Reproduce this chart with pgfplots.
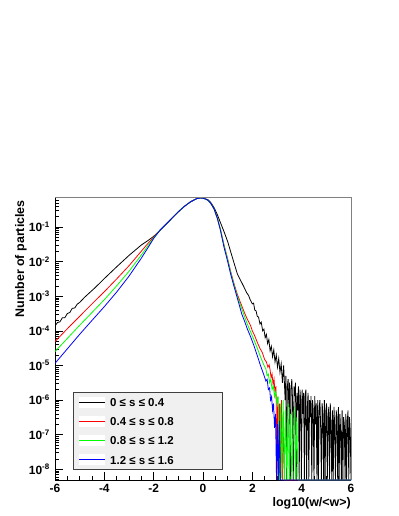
\documentclass[border=0pt]{standalone}
\usepackage{fontspec}
\setmainfont{Liberation Sans}
\usepackage{pgfplots}
\pgfplotsset{compat=1.18}

% value used for empty bins (drawn on the lower frame, like ROOT does)
\def\ymn{4.9e-9}

% one legend row: #1 colour, #2 vertical position (axis description), #3 text
\newcommand\keyrow[3]{%
  \fill[white] ([yshift=-5.5bp]axis description cs:0.0811,#2) rectangle ([yshift=5.5bp]axis description cs:0.1689,#2);
  \draw[#1, line width=0.9pt] (axis description cs:0.0811,#2) -- (axis description cs:0.1689,#2);
  \node[anchor=base west, inner sep=0pt, yshift=-4.6bp, font=\fontsize{11.5}{13}\selectfont\bfseries]
    at (axis description cs:0.1858,#2) {#3};}

\begin{document}
\begin{tikzpicture}
\useasboundingbox (0,0) rectangle (399bp,516bp);
\begin{axis}[
  at={(55bp,36bp)}, anchor=south west,
  scale only axis, width=296bp, height=283bp,
  ymode=log,
  xmin=-6, xmax=6, ymin=\ymn, ymax=0.736,
  axis x line*=bottom, axis y line*=left,
  axis line style={black, line width=0.8pt},
  clip mode=individual,
  xtick={-6,-4,-2,0,2,4,6},
  xticklabels={-6,-4,-2,0,2,4,6},
  minor x tick num=3,
  ytick={1e-8,1e-7,1e-6,1e-5,1e-4,1e-3,1e-2,1e-1},
  yticklabels={10\textsuperscript{-8},10\textsuperscript{-7},10\textsuperscript{-6},10\textsuperscript{-5},10\textsuperscript{-4},10\textsuperscript{-3},10\textsuperscript{-2},10\textsuperscript{-1}},
  minor ytick={5e-9,6e-9,7e-9,8e-9,9e-9,
    2e-8,3e-8,4e-8,5e-8,6e-8,7e-8,8e-8,9e-8,
    2e-7,3e-7,4e-7,5e-7,6e-7,7e-7,8e-7,9e-7,
    2e-6,3e-6,4e-6,5e-6,6e-6,7e-6,8e-6,9e-6,
    2e-5,3e-5,4e-5,5e-5,6e-5,7e-5,8e-5,9e-5,
    2e-4,3e-4,4e-4,5e-4,6e-4,7e-4,8e-4,9e-4,
    2e-3,3e-3,4e-3,5e-3,6e-3,7e-3,8e-3,9e-3,
    2e-2,3e-2,4e-2,5e-2,6e-2,7e-2,8e-2,9e-2,
    2e-1,3e-1,4e-1,5e-1,6e-1,7e-1},
  tick align=inside,
  major tick length=8bp, minor tick length=4bp,
  tick style={black, line width=0.6pt},
  xticklabel style={font=\fontsize{12}{14}\selectfont\bfseries, anchor=north, inner sep=0pt, yshift=-4bp},
  yticklabel style={font=\fontsize{12}{14}\selectfont\bfseries, anchor=east, inner sep=0pt, xshift=-5bp},
  xlabel={log10(w/<w>)},
  xlabel style={at={(axis description cs:1,-0.0936)}, anchor=base east, inner sep=0pt, font=\fontsize{12.5}{15}\selectfont\bfseries},
  ylabel={Number of particles},
  ylabel style={at={(axis description cs:-0.1047,0.9894)}, anchor=base east, inner sep=0pt, font=\fontsize{12.5}{15}\selectfont\bfseries},
  every axis plot/.append style={line width=0.8pt},
]

% 0 <= s <= 0.4
\addplot[black] coordinates {
 (-6.0,1.38e-4) (-5.9,1.74e-4) (-5.8,1.82e-4) (-5.7,2.40e-4) (-5.6,2.40e-4)
 (-5.5,3.16e-4) (-5.4,3.39e-4) (-5.3,4.47e-4) (-5.2,4.57e-4) (-5.1,5.89e-4)
 (-5.0,6.61e-4) (-4.8,9.33e-4) (-4.6,1.26e-3) (-4.4,1.70e-3) (-4.2,2.34e-3)
 (-4.0,3.24e-3) (-3.5,7.08e-3) (-3.0,1.51e-2) (-2.5,3.02e-2) (-2.25,3.98e-2)
 (-2.0,5.37e-2) (-1.75,7.94e-2) (-1.5,0.120) (-1.25,0.182) (-1.0,0.275)
 (-0.75,0.398) (-0.5,0.537) (-0.25,0.661) (-0.1,0.692) (0.0,0.676) (0.1,0.646)
 (0.2,0.617) (0.31,0.513) (0.45,0.363) (0.58,0.229) (0.7,0.138) (0.85,7.41e-2)
 (1.0,3.80e-2) (1.12,1.95e-2) (1.25,9.55e-3) (1.39,4.47e-3) (1.53,2.82e-3)
 (1.65,1.91e-3) (1.77,1.26e-3) (1.85,1.05e-3) (1.9,8.32e-4)
 (2.0,6.03e-4) (2.05,6.31e-4) (2.1,3.98e-4) (2.15,3.80e-4) (2.2,2.63e-4)
 (2.25,2.51e-4) (2.31,1.58e-4) (2.36,1.78e-4) (2.42,1.0e-4) (2.47,1.12e-4)
 (2.52,6.31e-5) (2.57,7.94e-5) (2.62,4.27e-5) (2.67,5.62e-5) (2.72,2.63e-5)
 (2.77,3.55e-5) (2.82,1.78e-5) (2.87,2.82e-5) (2.92,1.26e-5) (2.97,2.0e-5)
 (3.02,8.91e-6) (3.07,1.58e-5) (3.12,6.31e-6) (3.17,1.12e-5) (3.22,3.16e-6)
 (3.27,1.0e-5)
 (3.30,3.2e-6) (3.33,1.0e-6) (3.36,5.0e-6) (3.39,\ymn) (3.42,2.5e-6)
 (3.45,4.0e-6) (3.48,6.3e-7) (3.51,3.2e-6) (3.54,\ymn) (3.57,2.0e-6)
 (3.60,4.0e-6) (3.63,1.0e-6) (3.66,\ymn) (3.69,2.5e-6) (3.72,1.3e-6)
 (3.75,3.2e-6) (3.78,\ymn) (3.81,1.6e-6) (3.84,5.0e-7) (3.87,2.5e-6)
 (3.90,\ymn) (3.93,2.0e-6) (3.96,1.0e-6) (3.99,\ymn) (4.02,2.0e-6)
 (4.05,4.0e-7) (4.08,1.6e-6) (4.11,\ymn) (4.14,1.3e-6) (4.17,2.0e-6)
 (4.20,\ymn) (4.23,6.3e-7) (4.26,1.6e-6) (4.29,\ymn) (4.32,1.0e-6)
 (4.35,3.2e-7) (4.38,1.3e-6) (4.41,\ymn) (4.44,1.0e-6) (4.47,5.0e-7)
 (4.50,\ymn) (4.53,1.3e-6) (4.56,2.0e-7) (4.59,8.0e-7) (4.62,\ymn)
 (4.65,1.0e-6) (4.68,\ymn) (4.71,6.3e-7) (4.74,1.0e-6) (4.77,1.6e-7)
 (4.80,\ymn) (4.83,8.0e-7) (4.86,4.0e-7) (4.89,\ymn) (4.92,1.0e-6)
 (4.95,\ymn) (4.98,5.0e-7) (5.01,8.0e-7) (5.04,\ymn) (5.07,3.2e-7)
 (5.10,6.3e-7) (5.13,\ymn) (5.16,8.0e-7) (5.19,2.0e-7) (5.22,\ymn)
 (5.25,5.0e-7) (5.28,\ymn) (5.31,6.3e-7) (5.34,1.6e-7) (5.37,\ymn)
 (5.40,5.0e-7) (5.43,3.2e-7) (5.46,\ymn) (5.49,6.3e-7) (5.52,\ymn)
 (5.55,4.0e-7) (5.58,1.3e-7) (5.61,\ymn) (5.64,5.0e-7) (5.67,\ymn)
 (5.70,3.2e-7) (5.73,2.0e-7) (5.76,\ymn) (5.79,4.0e-7) (5.82,\ymn)
 (5.85,2.5e-7) (5.88,5.0e-7) (5.91,\ymn) (5.94,3.2e-7) (5.97,1.3e-7)
 (6.00,\ymn)
};

% 0.4 <= s <= 0.8
\addplot[red] coordinates {
 (-6.0,4.90e-5) (-5.5,1.15e-4) (-5.0,2.63e-4) (-4.5,6.03e-4) (-4.0,1.35e-3)
 (-3.5,3.16e-3) (-3.0,7.59e-3) (-2.5,2.00e-2) (-2.25,3.24e-2) (-2.0,5.13e-2)
 (-1.75,7.94e-2) (-1.5,0.120) (-1.25,0.182) (-1.0,0.275) (-0.75,0.398)
 (-0.5,0.537) (-0.25,0.661) (-0.1,0.692) (0.0,0.676) (0.1,0.646)
 (0.2,0.589) (0.31,0.490) (0.45,0.331) (0.58,0.182) (0.7,8.91e-2)
 (0.85,3.09e-2) (1.0,1.20e-2) (1.12,5.25e-3) (1.25,2.40e-3)
 (1.37,1.26e-3) (1.5,7.08e-4) (1.6,4.68e-4) (1.7,3.09e-4) (1.8,2.14e-4)
 (1.93,1.41e-4) (2.0,1.0e-4) (2.1,7.08e-5) (2.2,4.68e-5) (2.31,3.09e-5)
 (2.4,2.40e-5) (2.5,1.48e-5) (2.57,1.26e-5) (2.63,8.91e-6) (2.68,1.05e-5)
 (2.72,7.41e-6) (2.76,4.47e-6) (2.8,5.62e-6) (2.84,2.82e-6) (2.88,3.98e-6)
 (2.92,1.58e-6) (2.96,2.51e-6) (3.0,\ymn) (3.03,1.26e-6) (3.07,\ymn)
 (3.1,7.94e-7) (3.14,\ymn) (3.18,1.0e-6) (3.22,\ymn) (3.26,3.98e-7)
 (3.3,\ymn) (6.0,\ymn)
};

% 0.8 <= s <= 1.2
\addplot[green] coordinates {
 (-6.0,2.51e-5) (-5.5,6.03e-5) (-5.0,1.45e-4) (-4.5,3.39e-4) (-4.0,7.94e-4)
 (-3.5,2.00e-3) (-3.0,5.25e-3) (-2.5,1.55e-2) (-2.25,2.75e-2) (-2.0,4.90e-2)
 (-1.75,7.94e-2) (-1.5,0.120) (-1.25,0.182) (-1.0,0.275) (-0.75,0.398)
 (-0.5,0.537) (-0.25,0.661) (-0.1,0.692) (0.0,0.676) (0.1,0.646)
 (0.2,0.589) (0.31,0.490) (0.45,0.331) (0.58,0.182) (0.7,8.91e-2)
 (0.85,2.95e-2) (1.0,1.12e-2) (1.12,4.90e-3) (1.25,2.24e-3)
 (1.37,1.12e-3) (1.5,6.03e-4) (1.6,3.80e-4) (1.7,2.40e-4) (1.8,1.55e-4)
 (1.93,9.33e-5) (2.05,5.89e-5) (2.2,3.16e-5) (2.33,1.78e-5) (2.47,1.02e-5)
 (2.55,7.94e-6) (2.6,5.01e-6) (2.65,5.62e-6) (2.7,3.16e-6) (2.75,3.98e-6)
 (2.8,2.0e-6) (2.85,2.51e-6) (2.9,1.26e-6) (2.95,1.78e-6) (3.0,7.94e-7)
 (3.05,1.26e-6) (3.1,\ymn) (3.15,7.94e-7) (3.2,\ymn) (3.25,1.0e-6)
 (3.3,\ymn) (3.35,5.01e-7) (3.4,\ymn) (3.45,7.94e-7) (3.5,\ymn)
 (3.55,3.98e-7) (3.6,\ymn) (3.7,6.31e-7) (3.75,\ymn) (3.8,3.16e-7)
 (3.85,\ymn) (6.0,\ymn)
};

% 1.2 <= s <= 1.6
\addplot[blue] coordinates {
 (-6.0,1.15e-5) (-5.5,3.02e-5) (-5.0,7.94e-5) (-4.5,2.00e-4) (-4.0,5.01e-4)
 (-3.5,1.32e-3) (-3.0,3.80e-3) (-2.5,1.26e-2) (-2.25,2.40e-2) (-2.0,4.68e-2)
 (-1.75,7.94e-2) (-1.5,0.120) (-1.25,0.182) (-1.0,0.275) (-0.75,0.398)
 (-0.5,0.537) (-0.25,0.661) (-0.1,0.692) (0.0,0.676) (0.1,0.646)
 (0.2,0.589) (0.31,0.490) (0.45,0.331) (0.58,0.178) (0.7,8.51e-2)
 (0.85,2.63e-2) (1.0,1.0e-2) (1.12,4.37e-3) (1.25,2.0e-3)
 (1.37,1.0e-3) (1.47,5.62e-4) (1.57,3.09e-4) (1.7,1.78e-4) (1.8,1.12e-4)
 (1.93,6.76e-5) (2.05,3.98e-5) (2.2,1.91e-5) (2.33,1.0e-5) (2.47,5.25e-6)
 (2.55,3.55e-6) (2.6,3.98e-6) (2.65,2.0e-6) (2.7,2.24e-6) (2.74,1.0e-6)
 (2.78,1.26e-6) (2.82,5.01e-7) (2.86,7.94e-7) (2.9,1.58e-7) (2.94,3.98e-7)
 (2.98,\ymn) (3.02,2.0e-7) (3.06,\ymn) (3.1,2.51e-7) (3.13,\ymn) (6.0,\ymn)
};

% legend (ROOT style box)
\filldraw[fill=black!6, draw=black!75, line width=0.8pt]
  (axis description cs:0.0618,0.0389) rectangle (axis description cs:0.5642,0.3099);
\keyrow{black}{0.2756}{0 ≤ s ≤ 0.4}
\keyrow{red}{0.2074}{0.4 ≤ s ≤ 0.8}
\keyrow{green}{0.1403}{0.8 ≤ s ≤ 1.2}
\keyrow{blue}{0.0717}{1.2 ≤ s ≤ 1.6}

% grey upper and right frame
\draw[gray, line width=0.8pt] (rel axis cs:0,1) -- (rel axis cs:1,1) -- (rel axis cs:1,0);
\end{axis}
\end{tikzpicture}
\end{document}
